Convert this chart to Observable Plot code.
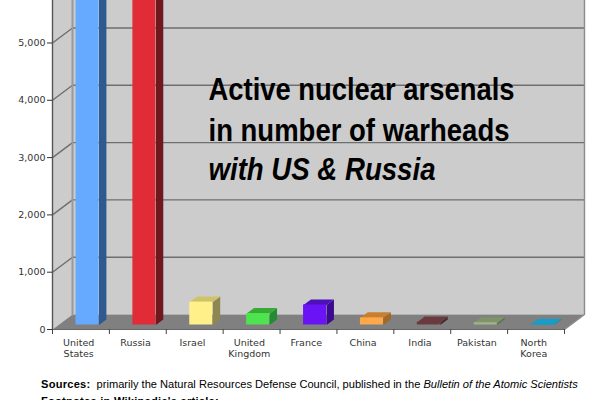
<!DOCTYPE html>
<html>
<head>
<meta charset="utf-8">
<script src="https://cdn.jsdelivr.net/npm/d3@7"></script>
<script src="https://cdn.jsdelivr.net/npm/@observablehq/plot@0.6"></script>
<style>
html,body{margin:0;padding:0;background:#fff;width:600px;height:400px;overflow:hidden}
#cap{position:absolute;left:41px;top:376px;width:559px;font:11.1px/17px "Liberation Sans",sans-serif;color:#000;white-space:nowrap;height:24px;overflow:hidden}
#cap b{letter-spacing:.25px;margin-right:3px}
svg{display:block}
</style>
</head>
<body>
<div id="chart"></div>
<div id="cap"><b>Sources:</b> primarily the Natural Resources Defense Council, published in the <i>Bulletin of the Atomic Scientists</i><br><b>Footnotes in Wikipedia's article:</b></div>
<script>
const categories = ["United\nStates","Russia","Israel","United\nKingdom","France","China","India","Pakistan","North\nKorea"];
const warheads = [6000,6000,400,200,350,125,50,40,10];
const frontColors = ["#66aaff","#e12b37","#fff08a","#4fe34f","#6a14f5","#ffa84a","#6a3a40","#a0b488","#1a9cc8"];
const sideColors  = ["#2f5a90","#701820","#8f8750","#258a35","#3b0a90","#a0682a","#4a2a30","#5f7550","#14789c"];
const topColors   = ["#4a80c0","#a0202a","#cfc36a","#35aa35","#4e10b8","#c88030","#6a3a40","#7f9468","#1a9cc8"];
const yTicks = [0,1000,2000,3000,4000,5000];
const titleLines = ["Active nuclear arsenals","in number of warheads"];
const titleItalic = "with US & Russia";

const yMax = 5742;
const depthX = 0.3515, depthY = 262;           // full depth of the floor, in scale units
const P = (i, v, d) => ({x: i + d * depthX, y: v + d * depthY});
const poly = pts => pts.map(([i, v, d]) => P(i, v, d));
const path = (pts, o) => Plot.line(poly(pts), {x: "x", y: "y", curve: "linear", ...o});
const face = (pts, fill) => path(pts, {fill, stroke: "none"});

const n = categories.length;
const wallTop = yMax + 400;
const marks = [
  face([[0,0,1],[n,0,1],[n,wallTop,1],[0,wallTop,1]], "#cccccc"),
  face([[0,0,0],[0,0,1],[0,wallTop,1],[0,wallTop,0]], "#cccccc"),
  face([[0,0,0],[n,0,0],[n,0,1],[0,0,1]], "#808080"),
  ...yTicks.filter(t => t > 0).map(t => path([[0,t,0],[0,t,1],[n,t,1]], {stroke: "#6e6e6e", strokeWidth: 1.4})),
  path([[0,0,1],[0,wallTop,1]], {stroke: "#999", strokeWidth: 2}),
  path([[n,0,0],[n,0,1],[n,wallTop,1]], {stroke: "#8c8c8c", strokeWidth: 1.4})
];

const L = 0.3075, R = 0.712, d1 = 0.3, d2 = 0.67;
warheads.forEach((v, k) => {
  const a = k + L, b = k + R;
  marks.push(
    face([[b,0,d1],[b,0,d2],[b,v,d2],[b,v,d1]], sideColors[k]),
    face([[a,v,d1],[b,v,d1],[b,v,d2],[a,v,d2]], topColors[k]),
    Plot.rect([{x1: P(a,0,d1).x, x2: P(b,0,d1).x, y1: P(a,0,d1).y, y2: P(a,v,d1).y}],
      {x1: "x1", x2: "x2", y1: "y1", y2: "y2", fill: frontColors[k]})
  );
});

const titleOpts = {frameAnchor: "top-left", text: d => d, dx: 156, fontSize: 30.5, fontWeight: "bold", fill: "#000", fontFamily: "Liberation Sans", lineAnchor: "bottom"};
marks.push(
  Plot.ruleX([0], {y1: 0, y2: yMax, stroke: "#555", strokeWidth: 1.4}),
  Plot.ruleY([0], {stroke: "#666", strokeWidth: 1}),
  Plot.axisY({ticks: yTicks, tickFormat: d3.format(","), tickSize: 5, tickPadding: 2, label: null, color: "#333", fontSize: 9.5}),
  Plot.axisX({ticks: d3.range(n + 1), tickFormat: () => "", tickSize: 5, label: null, color: "#444"}),
  Plot.text(categories, {x: (d, i) => i + 0.46, y: 0, text: d => d, dy: 8, lineAnchor: "top", fontSize: 9.5, lineHeight: 1.2, fill: "#333", fontFamily: "DejaVu Sans"}),
  Plot.text([titleLines[0]], {...titleOpts, dy: 99, className: "t306"}),
  Plot.text([titleLines[1]], {...titleOpts, dy: 140, className: "t301"}),
  Plot.text([titleItalic], {...titleOpts, dy: 179, fontStyle: "italic", className: "t227"})
);

const chart = Plot.plot({
  width: 600, height: 375,
  marginLeft: 52, marginRight: 36, marginTop: 0, marginBottom: 46,
  style: {background: "transparent", fontFamily: "DejaVu Sans", overflow: "hidden"},
  x: {domain: [0, n], axis: null},
  y: {domain: [0, yMax], axis: null},
  marks
});
[306, 301, 227].forEach(w => d3.select(chart).selectAll(`.t${w} text`).attr("textLength", w).attr("lengthAdjust", "spacingAndGlyphs"));
document.getElementById("chart").append(chart);
</script>
</body>
</html>
